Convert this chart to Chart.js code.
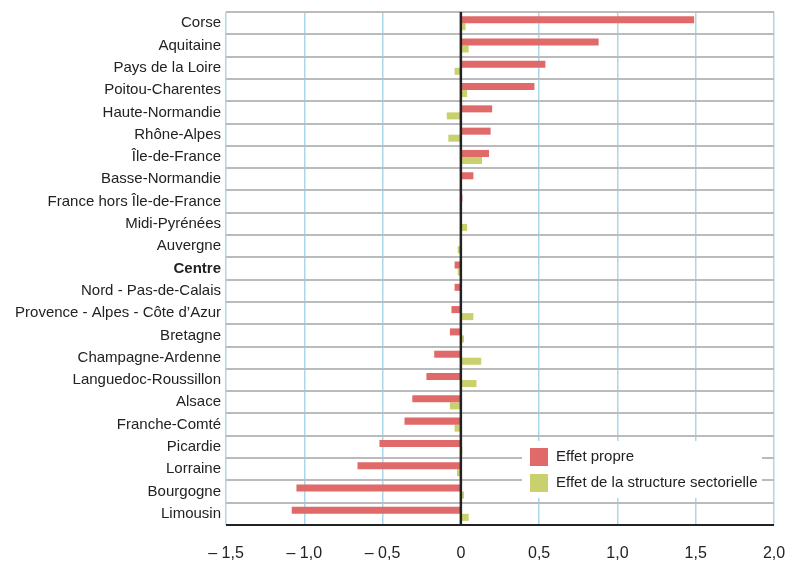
<!DOCTYPE html>
<html>
<head>
<meta charset="utf-8">
<script src="https://cdn.jsdelivr.net/npm/chart.js@4/dist/chart.umd.min.js"></script>
<style>
  html, body { margin: 0; padding: 0; background: #fff; }
  #wrap { width: 798px; height: 566px; }
</style>
</head>
<body>
<div id="wrap"><canvas id="grafico" width="798" height="566"></canvas></div>
<script>
// Régions (de haut en bas)
const regions = [
  "Corse", "Aquitaine", "Pays de la Loire", "Poitou-Charentes", "Haute-Normandie",
  "Rhône-Alpes", "Île-de-France", "Basse-Normandie", "France hors Île-de-France",
  "Midi-Pyrénées", "Auvergne", "Centre", "Nord - Pas-de-Calais",
  "Provence - Alpes - Côte d’Azur", "Bretagne", "Champagne-Ardenne",
  "Languedoc-Roussillon", "Alsace", "Franche-Comté", "Picardie", "Lorraine",
  "Bourgogne", "Limousin"
];

const effetPropre = [
  1.49, 0.88, 0.54, 0.47, 0.20, 0.19, 0.18, 0.08, 0.01, 0.0, 0.0, -0.04, -0.04,
  -0.06, -0.07, -0.17, -0.22, -0.31, -0.36, -0.52, -0.66, -1.05, -1.08
];

const effetStructure = [
  0.03, 0.05, -0.04, 0.04, -0.09, -0.08, 0.135, 0.0, 0.0, 0.04, -0.02, -0.02, 0.0,
  0.08, 0.02, 0.13, 0.10, -0.07, -0.04, 0.01, -0.025, 0.02, 0.05
];

const xTicks = [-1.5, -1.0, -0.5, 0, 0.5, 1.0, 1.5, 2.0];
const xTickLabels = ["– 1,5", "– 1,0", "– 0,5", "0", "0,5", "1,0", "1,5", "2,0"];

const ROUGE = "#e0696a";
const VERT = "#c9d06e";
const FONT = "'Liberation Sans', Arial, sans-serif";

// Ligne du zéro, axe du bas et légende dans le graphique
const decor = {
  id: "decor",
  afterDatasetsDraw(chart) {
    const { ctx, chartArea, scales } = chart;
    const x0 = scales.x.getPixelForValue(0);
    ctx.save();
    ctx.strokeStyle = "#222";
    ctx.lineWidth = 2.5;
    ctx.beginPath();
    ctx.moveTo(x0, chartArea.top);
    ctx.lineTo(x0, chartArea.bottom);
    ctx.stroke();
    ctx.lineWidth = 2;
    ctx.beginPath();
    ctx.moveTo(chartArea.left, chartArea.bottom);
    ctx.lineTo(chartArea.right, chartArea.bottom);
    ctx.stroke();

    // légende
    const bx = 522, by = 441;
    ctx.fillStyle = "#fff";
    ctx.fillRect(bx, by, 240, 57);
    ctx.font = "15px " + FONT;
    ctx.textBaseline = "middle";
    chart.data.datasets.forEach((ds, i) => {
      const y = by + 7 + i * 26;
      ctx.fillStyle = ds.backgroundColor;
      ctx.fillRect(bx + 8, y, 18, 18);
      ctx.fillStyle = "#222";
      ctx.fillText(ds.label, bx + 34, y + 9);
    });
    ctx.restore();
  }
};

new Chart(document.getElementById("grafico").getContext("2d"), {
  type: "bar",
  data: {
    labels: regions,
    datasets: [
      { label: "Effet propre", data: effetPropre, backgroundColor: ROUGE },
      { label: "Effet de la structure sectorielle", data: effetStructure, backgroundColor: VERT }
    ]
  },
  options: {
    indexAxis: "y",
    responsive: false,
    animation: false,
    layout: { padding: { top: 12, right: 24, bottom: 0, left: 0 } },
    datasets: { bar: { categoryPercentage: 0.63, barPercentage: 1.0 } },
    plugins: { legend: { display: false }, tooltip: { enabled: false } },
    scales: {
      x: {
        min: -1.5,
        max: 2.0,
        afterBuildTicks: (scale) => { scale.ticks = xTicks.map(v => ({ value: v })); },
        afterFit: (scale) => {
          scale.height = 41;
          scale.paddingLeft = 0;
          scale.paddingRight = 0;
        },
        border: { display: false },
        grid: {
          color: "#a9d8ec",
          lineWidth: 1.5,
          drawTicks: false
        },
        ticks: {
          padding: 19,
          color: "#222",
          font: { family: FONT, size: 16 },
          callback: (v, i) => xTickLabels[i]
        }
      },
      y: {
        afterFit: (scale) => {
          scale.width = 226;
          scale.paddingTop = 0;
          scale.paddingBottom = 0;
        },
        border: { display: false },
        grid: {
          color: "#bbbbbb",
          lineWidth: 2,
          offset: true,
          drawTicks: false
        },
        ticks: {
          padding: 5,
          color: "#222",
          autoSkip: false,
          font: (c) => ({
            family: FONT,
            size: 15,
            weight: regions[c.index] === "Centre" ? "bold" : "normal"
          })
        }
      }
    }
  },
  plugins: [decor]
});
</script>
</body>
</html>
